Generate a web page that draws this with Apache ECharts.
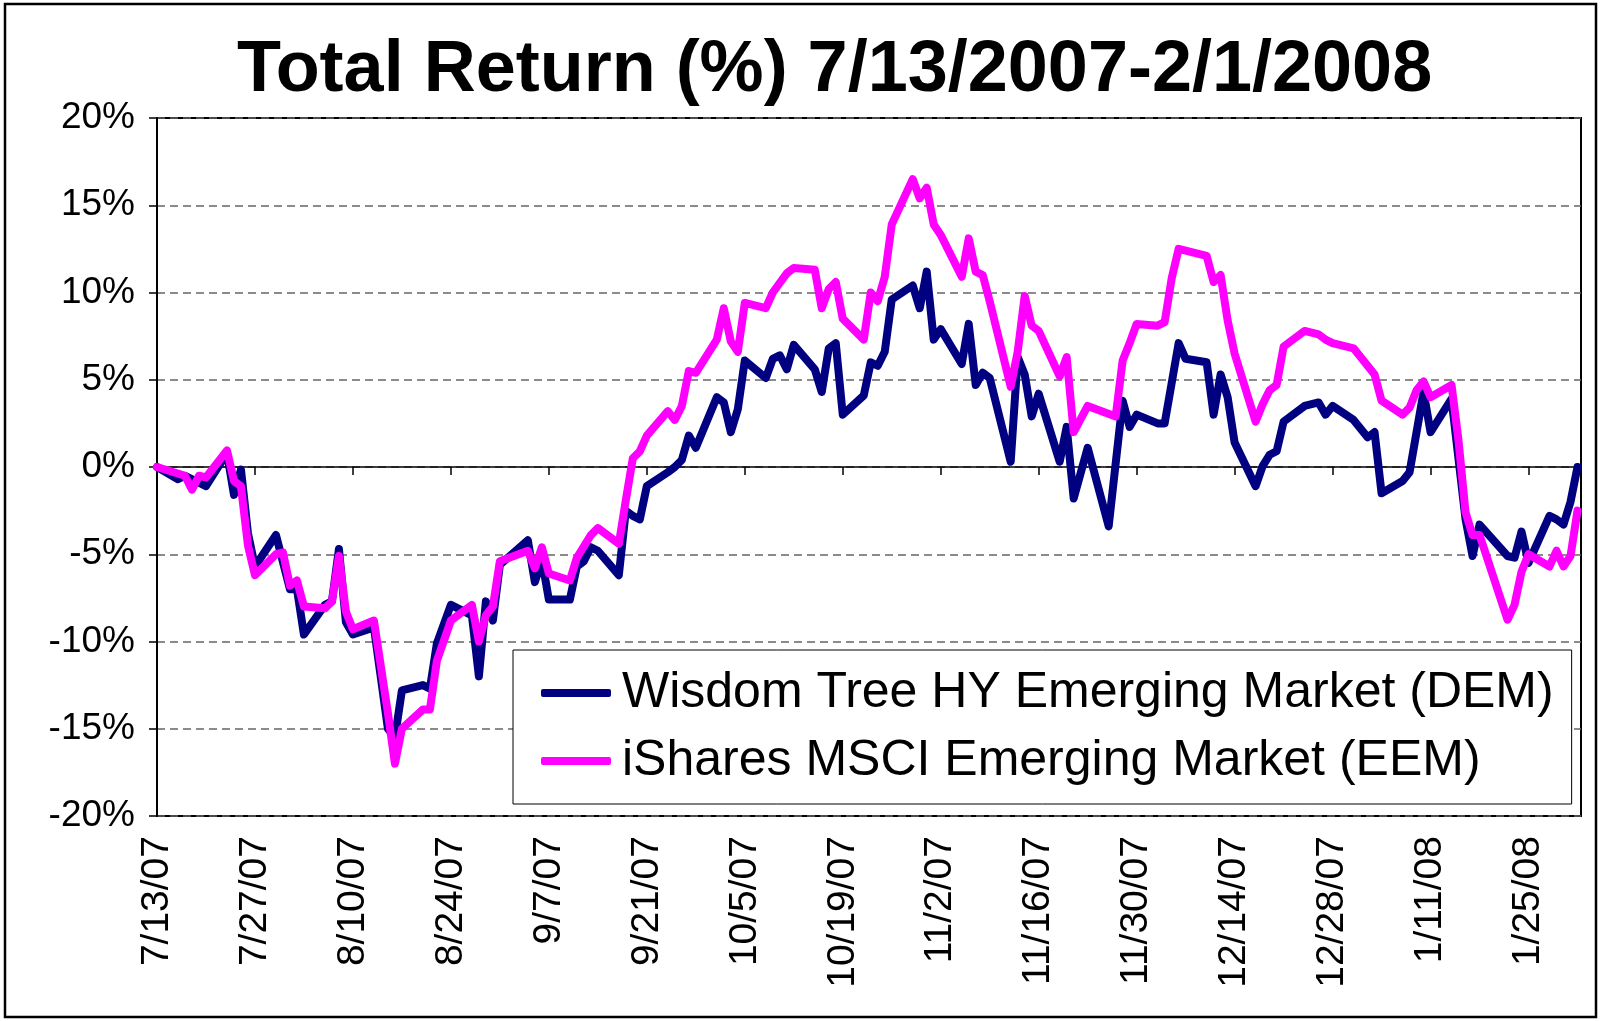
<!DOCTYPE html>
<html>
<head>
    <meta charset="utf-8">
    <title>Total Return (%) 7/13/2007-2/1/2008</title>
    <script src="https://cdn.jsdelivr.net/npm/echarts@6/dist/echarts.min.js"></script>
    <style>
        body { margin: 0; background: #fff; }
        #main { width: 1600px; height: 1021px; }
    </style>
</head>
<body>
    <div id="main"></div>

    <script type="text/javascript">
        // x values are calendar days since 7/13/07 (trading days only)
        var xLabels = ['7/13/07', '7/27/07', '8/10/07', '8/24/07', '9/7/07', '9/21/07', '10/5/07', '10/19/07',
            '11/2/07', '11/16/07', '11/30/07', '12/14/07', '12/28/07', '1/11/08', '1/25/08'];
        var yLabels = ['-20%', '-15%', '-10%', '-5%', '0%', '5%', '10%', '15%', '20%'];

        // Wisdom Tree HY Emerging Market (DEM)
        var demDays = [
            0, 3, 4, 7, 10, 11, 12, 13, 14, 17,
            19, 20, 21, 24, 25, 26, 27, 28, 31, 33, 34, 35, 38, 39, 40, 42, 45, 46, 47, 48, 49,
            53, 54, 55, 56, 59, 60, 61, 62, 63, 66, 67, 68, 69, 70, 73, 74, 75, 76, 77,
            80, 81, 82, 83, 84, 87, 88, 89, 90, 91, 94, 95, 96, 97, 98, 101, 102, 103, 104, 105, 108, 109, 110,
            111, 112, 115, 116, 117, 118, 119, 122, 123, 124, 125, 126, 129, 130, 131, 133, 136, 138, 139, 140,
            143, 144, 146, 147, 150, 151, 152, 153, 154, 157, 158, 159, 160, 161, 164, 166, 167, 168, 171,
            173, 174, 175, 178, 179, 181, 182, 185, 187, 188, 189, 193, 194, 195, 196, 199, 200, 201, 202, 203
        ];
        var demVals = [
            0, -0.7, -0.5, -1.1, 0.8, -1.6, -0.15, -3.8, -5.7, -3.9,
            -7.0, -7.0, -9.6, -7.9, -7.7, -4.7, -8.9, -9.6, -9.2, -15.0, -15.5, -12.8, -12.5, -12.7, -10.1, -7.9, -8.5, -12.0, -7.7, -8.8, -5.6,
            -4.2, -6.6, -5.3, -7.6, -7.6, -5.7, -5.4, -4.6, -4.8, -6.2, -2.5, -2.8, -3.0, -1.1, -0.3, 0, 0.4, 1.8, 1.1,
            4.0, 3.7, 2.0, 3.3, 6.1, 5.1, 6.2, 6.4, 5.6, 7.0, 5.6, 4.3, 6.8, 7.1, 3.0, 4.1, 6.0, 5.8, 6.6, 9.6, 10.4, 9.1, 11.2,
            7.3, 7.9, 5.9, 8.2, 4.7, 5.4, 5.1, 0.3, 6.3, 5.3, 2.9, 4.2, 0.3, 2.3, -1.8, 1.1, -3.4, 3.8, 2.3, 3.0,
            2.5, 2.5, 7.1, 6.2, 6.0, 3.0, 5.3, 4.0, 1.4, -1.1, 0.05, 0.7, 0.9, 2.6, 3.5, 3.7, 3.0, 3.5, 2.7,
            1.7, 2.0, -1.5, -0.8, -0.3, 4.3, 2.0, 3.9, -3.0, -5.1, -3.3, -5.1, -5.2, -3.7, -5.5, -2.8, -3.0, -3.3, -2.0, 0
        ];

        // iShares MSCI Emerging Market (EEM)
        var eemDays = [
            0, 4, 5, 6, 7, 10, 11, 12, 13, 14, 17, 18,
            19, 20, 21, 24, 25, 26, 27, 28, 31, 33, 34, 35, 38, 39, 40, 42, 45, 46, 47, 48, 49,
            53, 54, 55, 56, 59, 60, 62, 63, 66, 67, 68, 69, 70, 73, 74, 75, 76, 77,
            80, 81, 82, 83, 84, 87, 88, 90, 91, 94, 95, 96, 97, 98, 101, 102, 103, 104, 105, 108, 109, 110,
            111, 112, 115, 116, 117, 118, 119, 122, 123, 124, 125, 126, 129, 130, 131, 133, 137, 138, 139, 140,
            143, 144, 145, 146, 147, 150, 151, 152, 153, 154, 157, 158, 159, 160, 161, 164, 166, 167, 168, 171,
            174, 175, 178, 179, 180, 181, 182, 185, 186, 187, 188, 189, 193, 194, 195, 196, 199, 200, 201, 202, 203
        ];
        var eemVals = [
            0, -0.5, -1.3, -0.5, -0.6, 0.95, -0.8, -1.1, -4.5, -6.2, -5.0, -4.9,
            -6.8, -6.5, -8.0, -8.1, -7.7, -5.1, -8.3, -9.3, -8.8, -14.1, -17.0, -15.0, -13.9, -13.9, -11.1, -8.8, -7.9, -10.0, -8.5, -8.0, -5.4,
            -4.8, -5.8, -4.6, -6.1, -6.5, -5.2, -3.9, -3.5, -4.4, -1.9, 0.5, 0.9, 1.8, 3.2, 2.7, 3.5, 5.5, 5.4,
            7.3, 9.1, 7.2, 6.6, 9.4, 9.1, 10.0, 11.1, 11.4, 11.3, 9.1, 10.2, 10.6, 8.5, 7.3, 10.0, 9.5, 10.9, 13.9, 16.5, 15.4, 16.0,
            13.9, 13.3, 10.9, 13.1, 11.2, 11.0, 9.5, 4.6, 6.6, 9.8, 8.1, 7.8, 5.2, 6.3, 2.0, 3.5, 2.9, 6.1, 7.1, 8.2,
            8.1, 8.3, 10.8, 12.5, 12.4, 12.1, 10.6, 11.0, 8.4, 6.5, 2.6, 3.6, 4.4, 4.7, 6.9, 7.8, 7.6, 7.3, 7.1, 6.8,
            5.3, 3.8, 3.0, 3.4, 4.4, 4.9, 4.0, 4.7, 1.5, -2.6, -3.9, -3.9, -8.75, -7.9, -6.0, -5.0, -5.7, -4.8, -5.7, -5.1, -2.5
        ];

        var font = "'Liberation Sans', Arial, sans-serif";

        var toPairs = function(days, vals) {
            return days.map(function(d, i) { return [d, vals[i]]; });
        };

        var myChart = echarts.init(document.getElementById('main'));

        var option = {
            animation: false,
            backgroundColor: '#fff',
            title: {
                text: 'Total Return (%) 7/13/2007-2/1/2008',
                left: 237,
                top: 35,
                padding: 0,
                textStyle: { fontFamily: font, fontSize: 72, fontWeight: 'bold', color: '#000' }
            },
            graphic: [{
                type: 'rect',
                shape: { x: 5, y: 4, width: 1591, height: 1013 },
                style: { fill: 'none', stroke: '#000', lineWidth: 2.5 },
                silent: true
            }],
            legend: {
                orient: 'vertical',
                left: 513,
                top: 650,
                padding: [15, 18, 15, 28],
                itemWidth: 70,
                itemHeight: 8,
                itemGap: 12,
                icon: 'roundRect',
                backgroundColor: '#fff',
                borderColor: '#000',
                borderWidth: 1,
                textStyle: { fontFamily: font, fontSize: 50, color: '#000', lineHeight: 56, padding: [0, 0, 0, 6] },
                data: ['Wisdom Tree HY Emerging Market (DEM)', 'iShares MSCI Emerging Market (EEM)']
            },
            grid: {
                left: 157,
                top: 118,
                width: 1424,
                height: 698,
                show: true,
                borderColor: '#000',
                borderWidth: 2
            },
            xAxis: [{
                // zero line with ticks
                type: 'value',
                min: 0,
                max: 203.5,
                interval: 14,
                axisLine: { show: true, onZero: true, lineStyle: { color: '#000', width: 1.5 } },
                axisTick: { show: true, length: 8, lineStyle: { color: '#000', width: 1.5 } },
                axisLabel: { show: false },
                splitLine: { show: false }
            }, {
                // date labels at the bottom
                type: 'value',
                position: 'bottom',
                min: 0,
                max: 203.5,
                interval: 14,
                axisLine: { show: false, onZero: false },
                axisTick: { show: false },
                splitLine: { show: false },
                axisLabel: {
                    rotate: 90,
                    margin: 20,
                    fontFamily: font,
                    fontSize: 39,
                    color: '#000',
                    showMaxLabel: false,
                    formatter: function(v) {
                        if (v % 14 !== 0) return '';
                        return xLabels[v / 14] || '';
                    }
                }
            }],
            yAxis: {
                type: 'value',
                min: -20,
                max: 20,
                interval: 5,
                axisLine: { show: true, lineStyle: { color: '#000', width: 2 } },
                axisTick: { show: true, length: 8, lineStyle: { color: '#000', width: 1.5 } },
                axisLabel: {
                    margin: 22,
                    fontFamily: font,
                    fontSize: 37,
                    color: '#000',
                    formatter: function(v) { return yLabels[(v + 20) / 5]; }
                },
                splitLine: { show: true, lineStyle: { color: '#666', width: 1.5, type: [8, 5] } }
            },
            series: [{
                name: 'Wisdom Tree HY Emerging Market (DEM)',
                type: 'line',
                xAxisIndex: 0,
                showSymbol: false,
                color: '#000080',
                lineStyle: { width: 8, color: '#000080', join: 'round', cap: 'round' },
                data: toPairs(demDays, demVals)
            }, {
                name: 'iShares MSCI Emerging Market (EEM)',
                type: 'line',
                xAxisIndex: 0,
                showSymbol: false,
                color: '#ff00ff',
                lineStyle: { width: 8, color: '#ff00ff', join: 'round', cap: 'round' },
                data: toPairs(eemDays, eemVals)
            }]
        };

        myChart.setOption(option);
    </script>
</body>
</html>
